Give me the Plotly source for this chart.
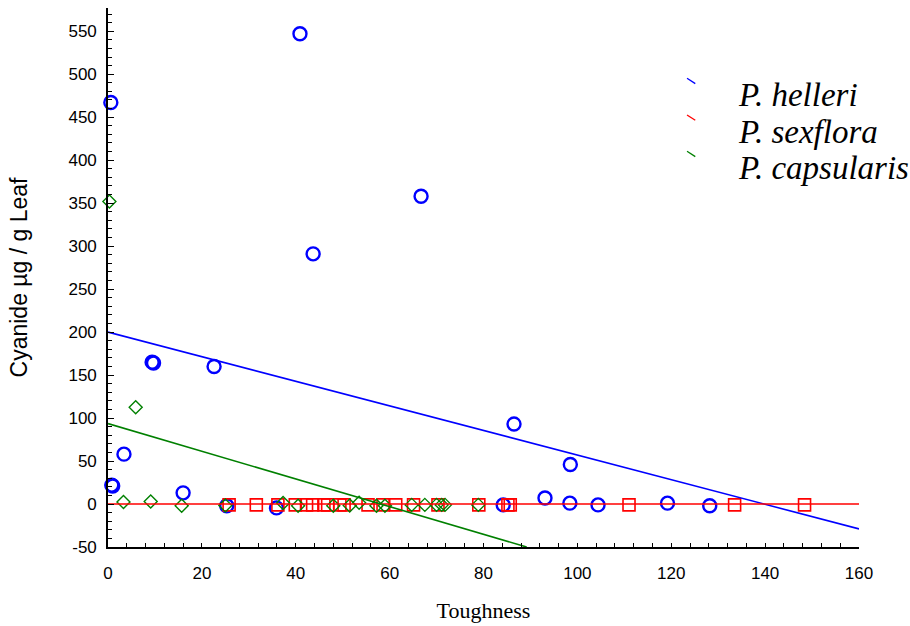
import plotly.graph_objects as go

# Toughness (x) and cyanide content (y) for each Passiflora species
helleri_x = [0.6, 0.8, 1.0, 3.4, 9.4, 9.7, 16.0, 22.6, 25.3, 35.9, 40.9, 43.7,
             66.7, 84.2, 86.5, 93.1, 98.4, 98.5, 104.4, 119.2, 128.2]
helleri_y = [467, 22, 21, 58, 165, 164, 13, 160, -2, -4.5, 547, 291,
             358, -1, 93, 7, 1, 46, -1, 1, -2]

sexflora_x = [25.8, 31.6, 36.2, 39.9, 42.3, 43.6, 46.0, 46.8, 49.4, 50.3,
              55.4, 58.6, 61.3, 65.1, 70.3, 79.0, 85.2, 85.7, 111.0, 133.5, 148.4]
sexflora_y = [-1, -1, -1, -1, -1, -1, -1, -1, -1, -1,
              -1, -1, -1, -1, -1, -1, -1, -1, -1, -1, -1]

capsularis_x = [0.3, 3.3, 5.9, 9.1, 15.7, 25.0, 37.3, 40.5, 48.0, 51.5, 53.5,
                57.2, 59.0, 64.7, 67.5, 70.0, 71.1, 71.8, 78.9]
capsularis_y = [352, 2.3, 112.5, 3, -2, -1.6, 1.2, -2, -2, -1.6, 1.5,
                -2, -2, -1, -1, -1, -1, -1, -1]

# Fitted linear trends: intercept, slope, x extent
fits = {
    "helleri": (200.0, -1.431, [0, 160]),
    "sexflora": (0.0, 0.0, [0, 160]),
    "capsularis": (93.5, -1.609, [0, 89.2]),
}

x_ticks = list(range(0, 161, 20))
y_ticks = list(range(-50, 551, 50))
y_tick_text = [str(v) for v in y_ticks]  # plain hyphen for negatives

species = ["P. helleri", "P. sexflora", "P. capsularis"]
colors = ["#0000ff", "#ff0000", "#008000"]

fig = go.Figure()

fig.add_trace(go.Scatter(
    x=helleri_x, y=helleri_y, mode="markers", cliponaxis=False,
    marker=dict(symbol="circle-open", size=13, color=colors[0], line=dict(width=2.4)),
    showlegend=False))
fig.add_trace(go.Scatter(
    x=sexflora_x, y=sexflora_y, mode="markers", cliponaxis=False,
    marker=dict(symbol="square-open", size=12, color=colors[1], line=dict(width=1.6)),
    showlegend=False))
fig.add_trace(go.Scatter(
    x=capsularis_x, y=capsularis_y, mode="markers", cliponaxis=False,
    marker=dict(symbol="diamond-open", size=10, color=colors[2], line=dict(width=1.4)),
    showlegend=False))

for (key, col) in zip(["helleri", "sexflora", "capsularis"], colors):
    b0, b1, xr = fits[key]
    fig.add_trace(go.Scatter(
        x=xr, y=[b0 + b1 * v for v in xr], mode="lines",
        line=dict(color=col, width=1.6), showlegend=False, hoverinfo="skip"))

# Legend: small diagonal swatch plus italic species name
legend_y = [0.8387, 0.7706, 0.7033]
for name, col, ly in zip(species, colors, legend_y):
    fig.add_shape(type="line", xref="paper", yref="paper",
                  x0=0.771, y0=ly + 0.031, x1=0.782, y1=ly + 0.021,
                  line=dict(color=col, width=1.3))
    fig.add_annotation(xref="paper", yref="paper", x=0.836, y=ly,
                       xanchor="left", yanchor="middle", showarrow=False,
                       text=f"<i>{name}</i>",
                       font=dict(family="Liberation Serif", size=33, color="black"))

fig.update_layout(
    width=910, height=626,
    margin=dict(l=108, r=51, t=8, b=79),
    paper_bgcolor="white", plot_bgcolor="white",
    font=dict(family="Liberation Sans", size=17, color="black"),
    xaxis=dict(
        range=[0, 160], tickvals=x_ticks,
        showline=True, linecolor="black", linewidth=1.6,
        ticks="inside", ticklen=4, tickwidth=1.2, tickcolor="black",
        minor=dict(dtick=4, ticks="inside", ticklen=4, tickwidth=1.2, tickcolor="black"),
        showgrid=False, zeroline=False,
        ticklabelstandoff=10,
        title=dict(text="Toughness", font=dict(family="Liberation Serif", size=22),
                   standoff=20),
    ),
    yaxis=dict(
        range=[-50, 577], tickvals=y_ticks, ticktext=y_tick_text,
        showline=True, linecolor="black", linewidth=1.6,
        ticks="inside", ticklen=6, tickwidth=1.2, tickcolor="black",
        minor=dict(dtick=10, ticks="inside", ticklen=4, tickwidth=1.2, tickcolor="black"),
        showgrid=False, zeroline=False,
        ticklabelstandoff=6,
        title=dict(text="Cyanide µg / g Leaf", font=dict(family="Liberation Sans", size=23),
                   standoff=34),
    ),
)

fig.write_html("out.html")
